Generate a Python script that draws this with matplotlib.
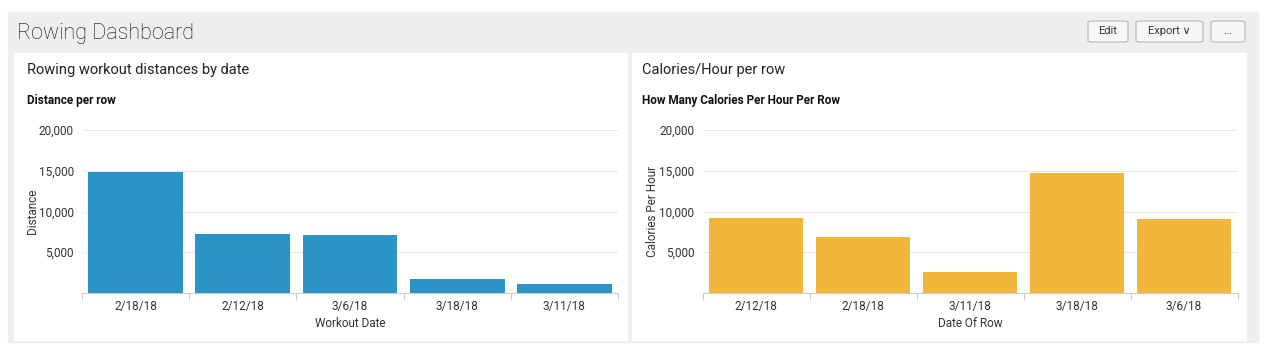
import matplotlib
matplotlib.use('Agg')
import matplotlib.pyplot as plt
from matplotlib.patches import Rectangle, FancyBboxPatch

datas_dist = ['2/18/18', '2/12/18', '3/6/18', '3/18/18', '3/11/18']
distancias = [14850, 7200, 7100, 1750, 1050]

datas_cal = ['2/12/18', '2/18/18', '3/11/18', '3/18/18', '3/6/18']
calorias_hora = [9200, 6900, 2550, 14750, 9100]

y_ticks = [5000, 10000, 15000, 20000]
y_tick_labels = ['5,000', '10,000', '15,000', '20,000']

W, H = 1270, 352
AZUL = '#2b93c5'
AMARELO = '#f0b73a'
CINZA_FUNDO = '#eeeeee'
TEXTO = '#333333'

plt.rcParams['font.family'] = ['Roboto', 'DejaVu Sans']


def px(x0, y0, x1, y1):
    """Converte caixa em pixels (topo-esquerda) para fração da figura."""
    return [x0 / W, 1 - y1 / H, (x1 - x0) / W, (y1 - y0) / H]


fig = plt.figure(figsize=(W / 100, H / 100), dpi=100, facecolor='white')

# fundo cinza do dashboard e painéis brancos
fig.patches.append(Rectangle((8 / W, 1 - 342 / H), 1250 / W, 330 / H,
                             transform=fig.transFigure, color=CINZA_FUNDO, zorder=0))
for x0, x1 in [(14, 627), (632, 1246)]:
    fig.patches.append(Rectangle((x0 / W, 1 - 340 / H), (x1 - x0) / W, 287 / H,
                                 transform=fig.transFigure, color='white', zorder=1))

fig.text(17 / W, 1 - 33 / H, 'Rowing Dashboard', fontsize=15.5, color='#111111',
         fontweight='light', va='center', ha='left')

# botões
for (x0, x1, txt) in [(1088, 1128, 'Edit'), (1136, 1203, 'Export \u2228'), (1211, 1245, '...')]:
    fig.patches.append(FancyBboxPatch((x0 / W, 1 - 42 / H), (x1 - x0) / W, 21 / H,
                                      boxstyle='round,pad=0,rounding_size=0.004',
                                      transform=fig.transFigure, facecolor='#f7f7f7',
                                      edgecolor='#b8b8b8', linewidth=0.8, zorder=2))
    fig.text((x0 + x1) / 2 / W, 1 - 31.5 / H, txt, fontsize=8, color=TEXTO,
             ha='center', va='center', zorder=3)


def painel(caixa, titulo, subtitulo, tx, cats, vals, cor, xlabel, ylabel, ylab_x):
    fig.text(tx / W, 1 - 70 / H, titulo, fontsize=10.5, color='#222222',
             va='center', ha='left', zorder=3)
    fig.text(tx / W, 1 - 101 / H, subtitulo, fontsize=8.5, color='#111111',
             fontweight='bold', va='center', ha='left', zorder=3)

    ax = fig.add_axes(px(*caixa))
    ax.set_facecolor('none')
    ax.set_zorder(3)
    pos = list(range(len(cats)))
    ax.bar(pos, vals, width=0.885, color=cor, zorder=3)
    ax.set_xlim(-0.5, len(cats) - 0.5)
    ax.set_ylim(0, 20000)
    ax.set_yticks(y_ticks)
    ax.set_yticklabels(y_tick_labels)
    ax.set_xticks(pos)
    ax.set_xticklabels(cats)
    ax.set_xticks([p - 0.5 for p in range(len(cats) + 1)], minor=True)
    ax.tick_params(axis='x', which='major', length=0, pad=5, labelsize=8.5, labelcolor=TEXTO)
    ax.tick_params(axis='x', which='minor', length=5, color='#cccccc', width=0.8)
    ax.tick_params(axis='y', length=0, pad=6, labelsize=8.5, labelcolor=TEXTO)
    ax.yaxis.grid(True, color='#e8e8e8', linewidth=0.8, zorder=0)
    for s in ['top', 'right', 'left']:
        ax.spines[s].set_visible(False)
    ax.spines['bottom'].set_color('#cccccc')
    ax.spines['bottom'].set_linewidth(0.8)
    ax.set_xlabel(xlabel, fontsize=8.5, color=TEXTO)
    ax.xaxis.set_label_coords(0.5, -0.145)
    ax.set_ylabel(ylabel, fontsize=8.5, color=TEXTO)
    ax.yaxis.set_label_coords(ylab_x, 0.5)
    return ax


painel((82, 130, 618, 293), 'Rowing workout distances by date', 'Distance per row', 27,
       datas_dist, distancias, AZUL, 'Workout Date', 'Distance', -0.080)
painel((702.5, 130, 1237.5, 293), 'Calories/Hour per row', 'How Many Calories Per Hour Per Row', 642,
       datas_cal, calorias_hora, AMARELO, 'Date Of Row', 'Calories Per Hour', -0.081)

fig.savefig('out.png', dpi=100, facecolor='white')
